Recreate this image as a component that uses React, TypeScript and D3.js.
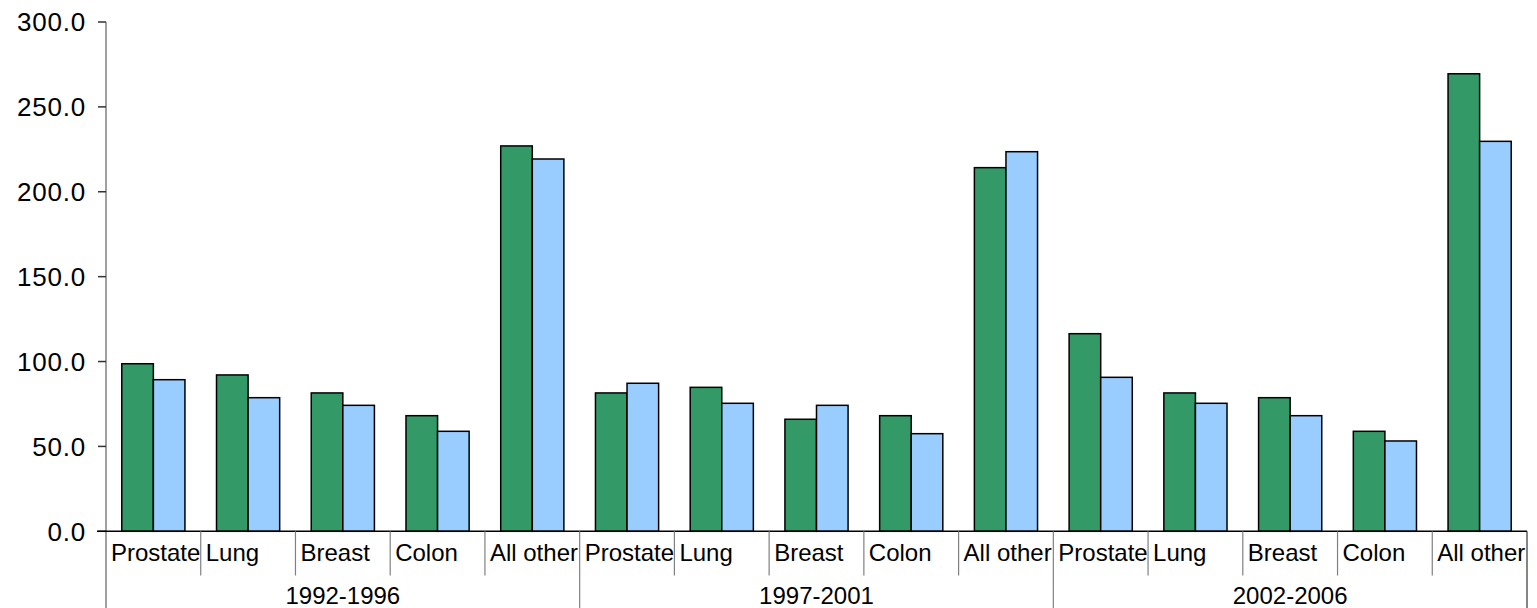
import React from "react";
import * as d3 from "d3";

const periods = ["1992-1996", "1997-2001", "2002-2006"];
const cancers = ["Prostate", "Lung", "Breast", "Colon", "All other"];
const seriesA = [98.7, 92.1, 81.5, 68.1, 227.0, 81.5, 84.8, 66.0, 68.1, 214.2, 116.4, 81.5, 78.7, 58.9, 269.5];
const seriesB = [89.3, 78.7, 74.2, 58.9, 219.3, 87.2, 75.4, 74.2, 57.5, 223.6, 90.7, 75.4, 68.1, 53.2, 229.7];
const yTicks = [0, 50, 100, 150, 200, 250, 300];

const W = 1537;
const H = 608;
const left = 106;
const right = 1527;
const top = 22;
const bottom = 531.3;
const FONT = "'Liberation Sans', Arial, sans-serif";

export default function App() {
  const keys = periods.flatMap((p) => cancers.map((c) => `${p}|${c}`));
  const x = d3.scaleBand<string>().domain(keys).range([left, right]).paddingInner(0).paddingOuter(0);
  const y = d3.scaleLinear().domain([0, 300]).range([bottom, top]);
  const inner = d3.scaleBand<string>().domain(["a", "b"]).range([0, x.bandwidth()]).paddingOuter(0.5).paddingInner(0);
  const groupW = x.bandwidth() * cancers.length;

  return (
    <svg width={W} height={H} style={{ position: "absolute", left: 0, top: 0, fontFamily: FONT }}>
      {/* y axis */}
      <line x1={left} x2={left} y1={top} y2={H} stroke="#808080" strokeWidth={1.5} />
      {yTicks.map((t) => (
        <g key={t}>
          <line x1={left - 8} x2={left} y1={y(t)} y2={y(t)} stroke="#333" strokeWidth={1.5} />
          <text x={86} y={y(t)} dy="0.36em" textAnchor="end" fontSize={26} letterSpacing={0.8} fill="#000">
            {t.toFixed(1)}
          </text>
        </g>
      ))}
      {/* bars */}
      {keys.map((k, i) => (
        <g key={k}>
          <rect
            x={(x(k) as number) + (inner("a") as number)}
            y={y(seriesA[i])}
            width={inner.bandwidth()}
            height={bottom - y(seriesA[i])}
            fill="#339966"
            stroke="#000"
            strokeWidth={1.5}
          />
          <rect
            x={(x(k) as number) + (inner("b") as number)}
            y={y(seriesB[i])}
            width={inner.bandwidth()}
            height={bottom - y(seriesB[i])}
            fill="#99CCFF"
            stroke="#000"
            strokeWidth={1.5}
          />
        </g>
      ))}
      {/* x axis */}
      <line x1={left - 9} x2={right} y1={bottom} y2={bottom} stroke="#000" strokeWidth={1.5} />
      {keys.map((k, i) => {
        const x0 = x(k) as number;
        const c = cancers[i % cancers.length];
        return (
          <g key={"l" + k}>
            {i % cancers.length !== 0 && (
              <line x1={x0} x2={x0} y1={bottom} y2={575.5} stroke="#808080" strokeWidth={1.2} />
            )}
            <text x={x0 + 5} y={561} fontSize={24} fill="#000">
              {c}
            </text>
          </g>
        );
      })}
      {periods.map((p, j) => {
        const g0 = left + j * groupW;
        return (
          <g key={p}>
            <line x1={g0 + groupW} x2={g0 + groupW} y1={bottom} y2={H} stroke={j === periods.length - 1 ? "#333" : "#808080"} strokeWidth={1.2} />
            <text x={g0 + groupW / 2} y={604} textAnchor="middle" fontSize={24} fill="#000">
              {p}
            </text>
          </g>
        );
      })}
    </svg>
  );
}
